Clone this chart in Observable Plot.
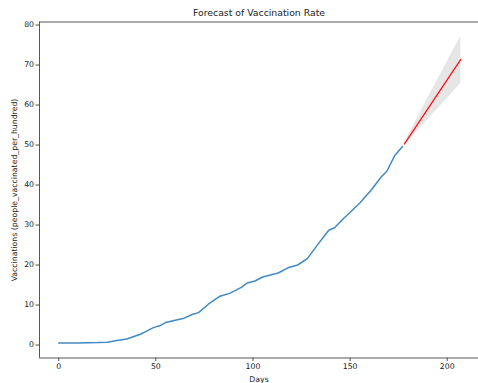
<!DOCTYPE html>
<html>
<head>
<meta charset="utf-8">
<script src="https://cdn.jsdelivr.net/npm/d3@7"></script>
<script src="https://cdn.jsdelivr.net/npm/@observablehq/plot@0.6"></script>
<style>
  body { margin: 0; background: #fff; }
  #chart svg { display: block; }
</style>
</head>
<body>
<div id="chart"></div>
<script>
// Observed share of people vaccinated (per hundred), by day
const days = [0, 10, 20, 25, 30, 35, 38, 42, 45, 49, 52, 55, 60, 64, 69, 72, 77, 83, 88, 94, 97,
  101, 105, 113, 118, 123, 128, 133, 139, 142, 147, 149, 155, 161, 166, 169, 173, 177];
const vaccinated = [0.5, 0.52, 0.6, 0.7, 1.1, 1.5, 2.0, 2.7, 3.4, 4.4, 4.8, 5.6, 6.2, 6.6, 7.7, 8.1, 10.2, 12.2, 12.9, 14.4, 15.5,
  16.0, 17.0, 18.0, 19.3, 20.0, 21.6, 24.9, 28.7, 29.3, 31.8, 32.7, 35.5, 38.8, 42.0, 43.5, 47.4, 49.6];

// Forecast with its confidence interval
const forecastDays = [178, 193, 207];
const forecastMean = [50.3, 61.2, 71.4];
const forecastLower = [50.0, 57.9, 65.4];
const forecastUpper = [50.6, 64.4, 77.2];

// Axes
const xTicks = [0, 50, 100, 150, 200];
const yTicks = [0, 10, 20, 30, 40, 50, 60, 70, 80];
const xDomain = [-9.9, 216.1];
const yDomain = [-3.25, 80.75];

const title = "Forecast of Vaccination Rate";
const xLabel = "Days";
const yLabel = "Vaccinations (people_vaccinated_per_hundred)";

const observed = days.map((d, i) => ({day: d, value: vaccinated[i]}));
const forecast = forecastDays.map((d, i) => ({
  day: d, mean: forecastMean[i], lower: forecastLower[i], upper: forecastUpper[i]
}));

const chart = Plot.plot({
  width: 478,
  height: 383,
  marginLeft: 39,
  marginRight: 0,
  marginTop: 21.5,
  marginBottom: 25.5,
  style: {fontFamily: "'DejaVu Sans', sans-serif", fontSize: "7.75px", color: "#222", background: "#fff"},
  x: {domain: xDomain},
  y: {domain: yDomain},
  marks: [
    Plot.areaY(forecast, {x: "day", y1: "lower", y2: "upper", fill: "gray", fillOpacity: 0.2}),
    Plot.line(observed, {x: "day", y: "value", stroke: "#4089c4", strokeWidth: 1.5}),
    Plot.line(forecast, {x: "day", y: "mean", stroke: "#ff1a1a", strokeWidth: 1.4}),
    Plot.ruleX([xDomain[0]], {stroke: "#555", strokeWidth: 1}),
    Plot.ruleY(yDomain, {stroke: "#555", strokeWidth: 1}),
    Plot.axisX({ticks: xTicks, tickSize: 3.5, tickPadding: 2, stroke: "#555", fontSize: 7.75, label: null}),
    Plot.axisY({ticks: yTicks, tickSize: 3.5, tickPadding: 2, stroke: "#555", fontSize: 7.75, label: null}),
    Plot.text([title], {frameAnchor: "top", dy: -8.5, lineAnchor: "middle", fontSize: 9.3, fill: "#222"}),
    Plot.text([xLabel], {frameAnchor: "bottom", dy: 21.5, lineAnchor: "middle", fontSize: 7.75, fill: "#222"}),
    Plot.text([yLabel], {frameAnchor: "left", dx: -25, rotate: -90, textAnchor: "middle", lineAnchor: "middle", fontSize: 7.75, fill: "#222"})
  ]
});
document.getElementById("chart").appendChild(chart);
</script>
</body>
</html>
